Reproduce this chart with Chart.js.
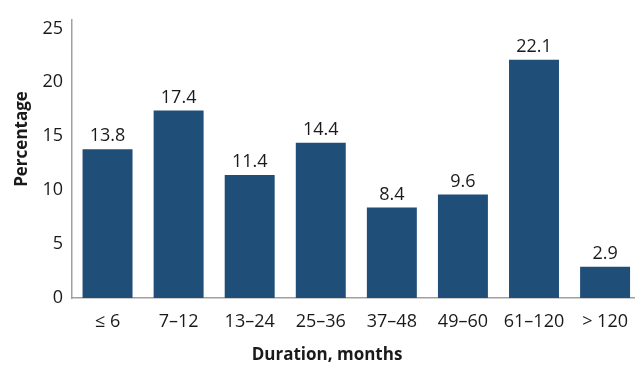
<!DOCTYPE html>
<html>
<head>
<meta charset="utf-8">
<script src="https://cdn.jsdelivr.net/npm/chart.js@4"></script>
<style>
  html, body { margin: 0; padding: 0; background: #fff; overflow: hidden; }
  #wrap { width: 641px; height: 365px; }
</style>
</head>
<body>
<div id="wrap"><canvas id="c" width="641" height="365"></canvas></div>
<script>
// Duration categories and share of cases in each
const categories = ['\u2264 6', '7\u201312', '13\u201324', '25\u201336', '37\u201348', '49\u201360', '61\u2013120', '> 120'];
const percentages = [13.8, 17.4, 11.4, 14.4, 8.4, 9.6, 22.1, 2.9];
const yTicks = [0, 5, 10, 15, 20, 25];
const xTitle = 'Duration, months';
const yTitle = 'Percentage';

const FONT = '"Open Sans", "DejaVu Sans", sans-serif';
const BAR = '#1f4e78';
const AXIS = '#a0a0a0';
const TEXT = '#1a1a1a';

// Prints each bar's value just above it
const valueLabels = {
  id: 'valueLabels',
  afterDatasetsDraw(chart) {
    const ctx = chart.ctx;
    const meta = chart.getDatasetMeta(0);
    ctx.save();
    ctx.font = '18px ' + FONT;
    ctx.fillStyle = TEXT;
    ctx.textAlign = 'center';
    ctx.textBaseline = 'bottom';
    meta.data.forEach((bar, i) => {
      ctx.fillText(percentages[i].toFixed(1), bar.x, bar.y - 4);
    });
    ctx.restore();
  }
};

// Rotated y-axis caption, set a little above the middle of the axis
const yCaption = {
  id: 'yCaption',
  afterDraw(chart) {
    const ctx = chart.ctx;
    ctx.save();
    ctx.translate(22, 139);
    ctx.rotate(-Math.PI / 2);
    ctx.font = 'bold 17px ' + FONT;
    ctx.fillStyle = TEXT;
    ctx.textAlign = 'center';
    ctx.textBaseline = 'middle';
    ctx.fillText(yTitle, 0, 0);
    ctx.restore();
  }
};

new Chart(document.getElementById('c'), {
  type: 'bar',
  data: {
    labels: categories,
    datasets: [{
      data: percentages,
      backgroundColor: BAR,
      borderWidth: 0,
      barPercentage: 0.703,
      categoryPercentage: 1
    }]
  },
  options: {
    responsive: false,
    animation: false,
    layout: { padding: { top: 14, left: 13, right: 0, bottom: 0 } },
    plugins: {
      legend: { display: false },
      tooltip: { enabled: false },
      title: {
        display: true, position: 'bottom', text: xTitle, color: TEXT,
        font: { family: FONT, size: 17, weight: 'bold' },
        padding: 0
      }
    },
    scales: {
      x: {
        grid: { display: false, drawTicks: false },
        border: { display: true, color: AXIS, width: 1.5 },
        ticks: { color: TEXT, font: { family: FONT, size: 18 }, padding: 13, maxRotation: 0 },
        afterFit(scale) { scale.height = 46.6; }
      },
      y: {
        min: 0,
        max: 25.8,
        grid: { display: false, drawTicks: false },
        border: { display: true, color: AXIS, width: 1.5 },
        afterBuildTicks(scale) { scale.ticks = yTicks.map(v => ({ value: v })); },
        ticks: { color: TEXT, font: { family: FONT, size: 18 }, padding: 9 },
        afterFit(scale) { scale.width = 59; }
      }
    }
  },
  plugins: [valueLabels, yCaption]
});
</script>
</body>
</html>
